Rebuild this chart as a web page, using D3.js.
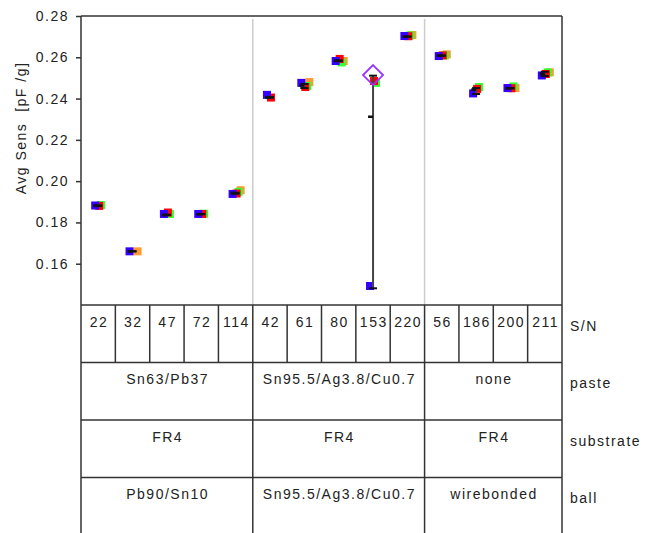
<!DOCTYPE html>
<html>
<head>
<meta charset="utf-8">
<script src="https://cdn.jsdelivr.net/npm/d3@7/dist/d3.min.js"></script>
<style>
  body { margin: 0; background: #fff; }
  text { font-family: "Liberation Sans", Arial, sans-serif; fill: #222; letter-spacing: 1.5px; }
</style>
</head>
<body>
<div id="chart"></div>
<script>
// S/N columns and the grouping rows below them
const snLabels = ["22", "32", "47", "72", "114", "42", "61", "80", "153", "220", "56", "186", "200", "211"];
const groupSizes = [5, 5, 4];
const pasteLabels = ["Sn63/Pb37", "Sn95.5/Ag3.8/Cu0.7", "none"];
const substrateLabels = ["FR4", "FR4", "FR4"];
const ballLabels = ["Pb90/Sn10", "Sn95.5/Ag3.8/Cu0.7", "wirebonded"];
const rowNames = ["S/N", "paste", "substrate", "ball"];

const yTicks = [0.16, 0.18, 0.20, 0.22, 0.24, 0.26, 0.28];

// measured values per S/N, one array per colour (null = not seen)
const blueVals   = [0.1882, 0.1660, 0.1841, 0.1841, 0.1938, 0.2418, 0.2476, 0.2582, 0.1492, 0.2703, 0.2606, 0.2425, 0.2451, 0.2512];
const redVals    = [0.1880, null,   0.1848, 0.1841, 0.1940, 0.2405, 0.2456, 0.2592, 0.2485, 0.2702, 0.2609, 0.2447, 0.2450, 0.2519];
const greenVals  = [0.1884, null,   0.1841, 0.1842, 0.1948, null,   0.2461, 0.2575, 0.2476, 0.2706, 0.2609, 0.2456, 0.2459, 0.2527];
const orangeVals = [null,   0.1660, null,   null,   0.1956, null,   0.2480, 0.2582, null,   0.2708, 0.2614, null,   0.2451, 0.2527];

// mean and spread per S/N
const meanVals = [0.1881, 0.1660, 0.1836, 0.1840, 0.1942, 0.2406, 0.2463, 0.2583, 0.2312, 0.2700, 0.2608, 0.2443, 0.2450, 0.2520];
const lowVals  = [0.1879, 0.1659, 0.1835, 0.1839, 0.1939, 0.2404, 0.2451, 0.2581, 0.1481, 0.2699, 0.2607, 0.2422, 0.2449, 0.2509];
const highVals = [0.1883, 0.1661, 0.1838, 0.1841, 0.1944, 0.2408, 0.2471, 0.2585, 0.2511, 0.2701, 0.2609, 0.2451, 0.2451, 0.2530];
const flagVals = [null, null, null, null, null, null, null, null, 0.2514, null, null, null, null, null];

const W = 656, H = 533;
const plotLeft = 81, plotRight = 562, plotTop = 16, plotBottom = 305;
const rowH = 57.5;

const svg = d3.select("#chart").append("svg")
    .attr("width", W)
    .attr("height", H);

const x = d3.scaleBand()
    .domain(snLabels)
    .range([plotLeft, plotRight]);

const y = d3.scaleLinear()
    .domain([0.14, 0.28])
    .range([plotBottom, plotTop]);

const lineCol = "#333";

// group separators inside the plot
let groupEdges = [];
let acc = 0;
groupSizes.forEach(n => { groupEdges.push([acc, acc + n]); acc += n; });

svg.selectAll(".sep")
    .data(groupEdges.slice(1))
    .enter().append("line")
      .attr("x1", d => x(snLabels[d[0]]))
      .attr("x2", d => x(snLabels[d[0]]))
      .attr("y1", plotTop + 3)
      .attr("y2", plotBottom)
      .attr("stroke", "#cccccc")
      .attr("stroke-width", 1.5);

// y axis
const yAxis = d3.axisLeft(y)
    .tickValues(yTicks)
    .tickSize(5)
    .tickPadding(7)
    .tickFormat(d3.format(".2f"));

const gy = svg.append("g")
    .attr("transform", `translate(${plotLeft},0)`)
    .call(yAxis);
gy.select(".domain").remove();
gy.selectAll(".tick line").attr("stroke", lineCol).attr("stroke-width", 1.5);
gy.selectAll(".tick text")
    .style("font-size", "14px")
    .style("font-family", "Liberation Sans, Arial, sans-serif")
    .attr("fill", "#222");

svg.append("text")
    .attr("transform", `translate(26,128) rotate(-90)`)
    .attr("text-anchor", "middle")
    .style("font-size", "14px")
    .style("white-space", "pre")
    .text("Avg Sens  [pF /g]");

// points
const series = [
  {vals: orangeVals, color: "#ff9933", dx: 5},
  {vals: greenVals,  color: "#33ff33", dx: 3},
  {vals: redVals,    color: "#ff0000", dx: 1},
  {vals: blueVals,   color: "#3300ff", dx: -3}
];
const sq = 8;
const cx = i => x(snLabels[i]) + x.bandwidth() / 2;

series.forEach(s => {
  svg.append("g").selectAll("rect")
    .data(s.vals.map((v, i) => ({v, i})).filter(d => d.v !== null))
    .enter().append("rect")
      .attr("x", d => cx(d.i) + s.dx - sq / 2)
      .attr("y", d => y(d.v) - sq / 2)
      .attr("width", sq)
      .attr("height", sq)
      .attr("fill", s.color);
});

// spread bars with caps, and mean ticks
const idx = d3.range(snLabels.length);
const bars = svg.append("g");
bars.selectAll(".vbar")
    .data(idx)
    .enter().append("line")
      .attr("x1", cx).attr("x2", cx)
      .attr("y1", i => y(highVals[i]))
      .attr("y2", i => y(lowVals[i]))
      .attr("stroke", "#444")
      .attr("stroke-width", 2);
[highVals, lowVals].forEach(arr => {
  bars.append("g").selectAll("line")
    .data(idx)
    .enter().append("line")
      .attr("x1", i => cx(i) - 4).attr("x2", i => cx(i) + 4)
      .attr("y1", i => y(arr[i])).attr("y2", i => y(arr[i]))
      .attr("stroke", "#111")
      .attr("stroke-width", 2);
});
bars.append("g").selectAll("line")
    .data(idx)
    .enter().append("line")
      .attr("x1", i => cx(i) - 5).attr("x2", i => cx(i))
      .attr("y1", i => y(meanVals[i])).attr("y2", i => y(meanVals[i]))
      .attr("stroke", "#111")
      .attr("stroke-width", 2.5);

// flagged diamond
svg.append("g").selectAll("path")
    .data(idx.filter(i => flagVals[i] !== null))
    .enter().append("path")
      .attr("d", i => {
        const px = cx(i), py = y(flagVals[i]), r = 10;
        return `M${px},${py - r}L${px + r},${py}L${px},${py + r}L${px - r},${py}Z`;
      })
      .attr("fill", "none")
      .attr("stroke", "#9933ff")
      .attr("stroke-width", 1.8);

// table rows
const rowTop = k => plotBottom + k * rowH;
const grid = svg.append("g").attr("stroke", lineCol).attr("stroke-width", 1.5);

// horizontal lines: plot top, plot bottom and row boundaries
[plotTop, rowTop(0), rowTop(1), rowTop(2), rowTop(3)].forEach(yy => {
  grid.append("line").attr("x1", plotLeft).attr("x2", plotRight).attr("y1", yy).attr("y2", yy);
});
// outer left / right borders
[plotLeft, plotRight].forEach(xx => {
  grid.append("line").attr("x1", xx).attr("x2", xx).attr("y1", plotTop).attr("y2", H);
});
// S/N cell dividers
grid.selectAll(".sncell")
    .data(snLabels.slice(1))
    .enter().append("line")
      .attr("x1", d => x(d)).attr("x2", d => x(d))
      .attr("y1", rowTop(0)).attr("y2", rowTop(1));
// group dividers in lower rows
groupEdges.slice(1).forEach(g => {
  const gx = x(snLabels[g[0]]);
  grid.append("line").attr("x1", gx).attr("x2", gx).attr("y1", rowTop(1)).attr("y2", H);
});

svg.append("g").selectAll("text")
    .data(snLabels)
    .enter().append("text")
      .attr("x", d => x(d) + x.bandwidth() / 2 + 0.75)
      .attr("y", rowTop(0) + 21.5)
      .attr("text-anchor", "middle")
      .style("font-size", "14px")
      .text(d => d);

[pasteLabels, substrateLabels, ballLabels].forEach((labels, r) => {
  svg.append("g").selectAll("text")
    .data(labels)
    .enter().append("text")
      .attr("x", (d, gi) => {
        const g = groupEdges[gi];
        const x0 = x(snLabels[g[0]]);
        const x1 = g[1] < snLabels.length ? x(snLabels[g[1]]) : plotRight;
        return (x0 + x1) / 2 + 0.75;
      })
      .attr("y", rowTop(r + 1) + 21.5)
      .attr("text-anchor", "middle")
      .style("font-size", "14px")
      .text(d => d);
});

svg.append("g").selectAll("text")
    .data(rowNames)
    .enter().append("text")
      .attr("x", plotRight + 8)
      .attr("y", (d, k) => rowTop(k) + 25.5)
      .style("font-size", "14px")
      .text(d => d);
</script>
</body>
</html>
